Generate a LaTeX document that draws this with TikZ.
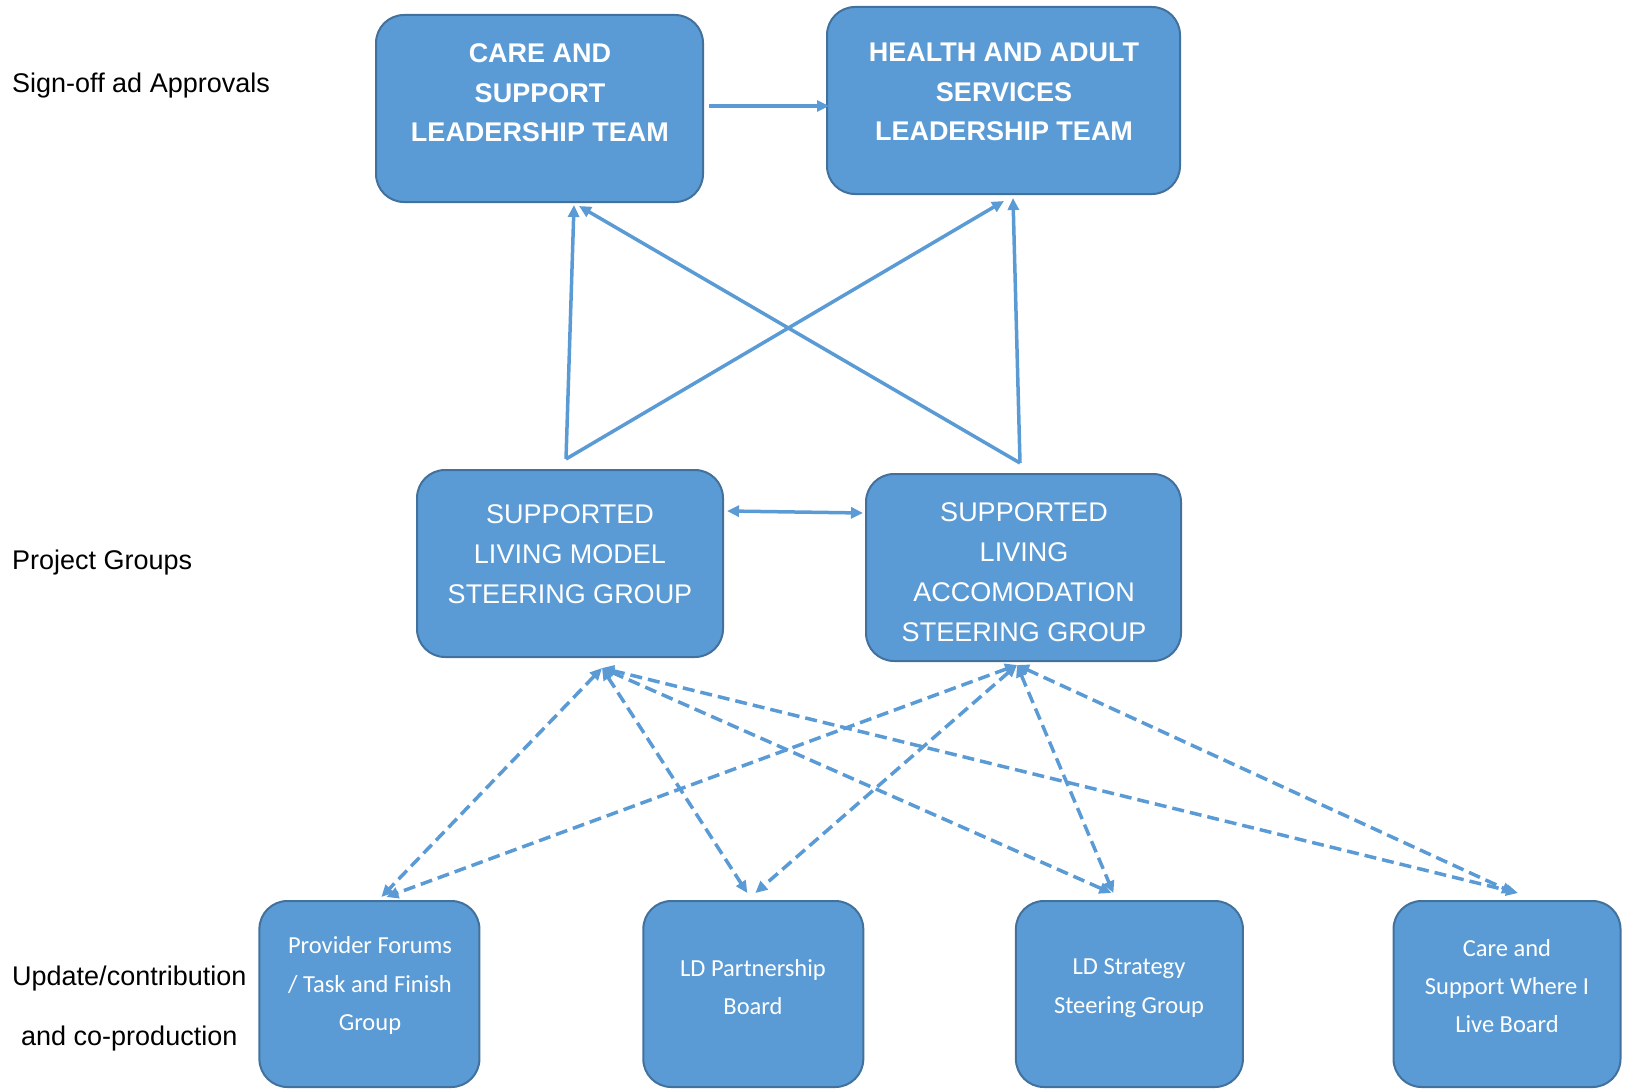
\documentclass[tikz,border=0pt]{standalone}
\usepackage{fontspec}
\setmainfont{Liberation Sans}
\newfontfamily\calibrifont{Carlito}
\usepackage{xcolor}
\usepackage{tikz}
\usetikzlibrary{positioning}
\usetikzlibrary{calc}
\usetikzlibrary{arrows.meta}
\definecolor{boxblue}{HTML}{5B9BD5}
\definecolor{boxedge}{HTML}{41719C}
\tikzset{
    >={Triangle[length=12pt,width=11pt]},
    box/.style = {draw=boxedge, fill=boxblue, line width=2pt, rounded corners=28pt, inner sep=0pt},
    teamtext/.style = {text=white, align=center, inner sep=0pt, font=\fontsize{27}{39.4}\selectfont\bfseries},
    grouptext/.style = {text=white, align=center, inner sep=0pt, font=\fontsize{27}{40}\selectfont},
    forumtext/.style = {text=white, align=center, inner sep=0pt, font=\calibrifont\fontsize{24.5}{38.4}\selectfont},
    sidetext/.style = {text=black, align=center, inner sep=0pt, anchor=west, font=\fontsize{27}{60}\selectfont},
    link/.style = {draw=boxblue, line width=3.5pt, ->},
    dlink/.style = {draw=boxblue, line width=3.5pt, <->, dash pattern=on 12pt off 6pt}
}

\begin{document}
\begin{tikzpicture}[x=1pt, y=-1pt]
  \useasboundingbox (0,0) rectangle (1627,1089);
  % row labels
  \node [sidetext] (signoff) at (12,86) {Sign-off ad Approvals};
  \node [sidetext] (projects) at (12,563) {Project Groups};
  \node [sidetext] (update) at (12,1009) {Update/contribution\\and co-production};

  % leadership teams
  \node [box, minimum width=327pt, minimum height=187pt] (csl) at (539.5,108.5) {};
  \node [teamtext] (csltext) at (540,93) {CARE AND\\SUPPORT\\LEADERSHIP TEAM};
  \node [box, minimum width=353pt, minimum height=187pt] (hasl) at (1003.5,100.5) {};
  \node [teamtext] (hasltext) at (1004,92) {HEALTH AND ADULT\\SERVICES\\LEADERSHIP TEAM};

  % steering groups
  \node [box, minimum width=306pt, minimum height=187pt] (slm) at (570,563.5) {};
  \node [grouptext] (slmtext) at (570,554.5) {SUPPORTED\\LIVING MODEL\\STEERING GROUP};
  \node [box, minimum width=315pt, minimum height=187pt] (sla) at (1023.5,567.5) {};
  \node [grouptext] (slatext) at (1024,572.5) {SUPPORTED\\LIVING\\ACCOMODATION\\STEERING GROUP};

  % boards and forums
  \node [box, minimum width=220pt, minimum height=186pt] (forum) at (369.4,994) {};
  \node [forumtext] (forumtext) at (370,985.5) {Provider Forums\\/ Task and Finish\\Group};
  \node [box, minimum width=220pt, minimum height=186pt] (ldpb) at (753.3,994) {};
  \node [forumtext] (ldpbtext) at (753,987) {LD Partnership\\Board};
  \node [box, minimum width=227pt, minimum height=186pt] (ldsg) at (1129.4,994) {};
  \node [forumtext] (ldsgtext) at (1129,988) {LD Strategy\\Steering Group};
  \node [box, minimum width=227pt, minimum height=186pt] (cswl) at (1507,994) {};
  \node [forumtext] (cswltext) at (1507,986) {Care and\\Support Where I\\Live Board};

  % sign-off
  \draw [link] ($(csl.east)+(5,-2.5)$) -- ($(hasl.west)+(3,5.5)$);
  \draw [link] ($(slm.north)+(-4,-10)$) -- ($(csl.south)+(34.5,2)$);
  \draw [link] ($(slm.north)+(-4,-10)$) -- ($(hasl.south)+(0.5,6)$);
  \draw [link] ($(sla.north)+(-3.5,-10)$) -- ($(csl.south)+(39.5,3)$);
  \draw [link] ($(sla.north)+(-3.5,-10)$) -- ($(hasl.south)+(9.5,3)$);
  \draw [link, <->] ($(slm.east)+(3,-52.5)$) -- ($(sla.west)+(-2,-54.5)$);

  % contributions
  \foreach \dest/\dx/\dy in {forum/12/-3, ldpb/-6/-7, ldsg/-18/-7, cswl/11/-7}
    \draw [dlink] ($(slm.south)+(32,10)$) -- ($(\dest.north)+(\dx,\dy)$);
  \foreach \dest/\dx/\dy in {forum/17/-3, ldpb/2/-7, ldsg/-16/-7, cswl/7/-7}
    \draw [dlink] ($(sla.south)+(-6.5,3)$) -- ($(\dest.north)+(\dx,\dy)$);
\end{tikzpicture}
\end{document}
